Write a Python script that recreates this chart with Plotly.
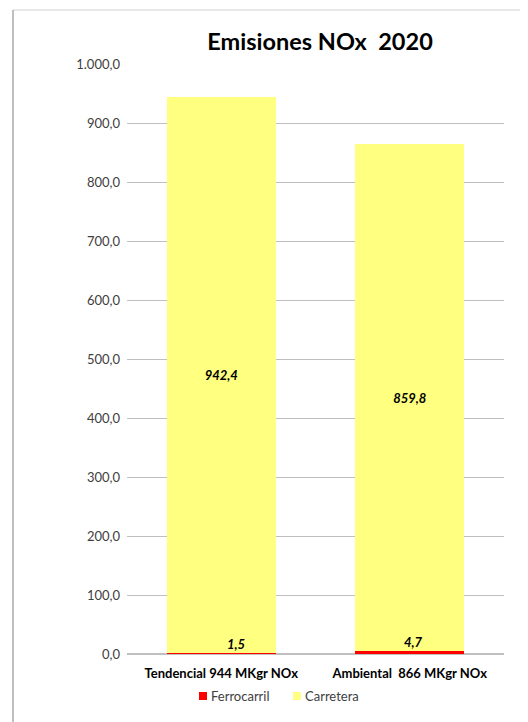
import plotly.graph_objects as go

categories = ["Tendencial 944 MKgr NOx", "Ambiental  866 MKgr NOx"]
ferrocarril = [1.5, 4.7]
carretera = [942.4, 859.8]
y_ticks = [0, 100, 200, 300, 400, 500, 600, 700, 800, 900, 1000]
series_names = ["Ferrocarril", "Carretera"]
series_colors = ["#FF0000", "#FFFF80"]

FONT = "Lato, 'Open Sans', sans-serif"
label_font = dict(family=FONT, size=13, color="#000000", weight="bold", style="italic")

fig = go.Figure()
fig.add_trace(go.Bar(
    name=series_names[0], x=categories, y=ferrocarril,
    marker=dict(color=series_colors[0], line=dict(width=0)),
    width=0.58, showlegend=False,
))
fig.add_trace(go.Bar(
    name=series_names[1], x=categories, y=carretera,
    marker=dict(color=series_colors[1], line=dict(width=0)),
    width=0.58, showlegend=False,
    texttemplate="%{y:.1f}", textposition="inside", insidetextanchor="middle",
    textfont=label_font, textangle=0,
))

label_xshift = [15, 4]
for c, v, xs in zip(categories, ferrocarril, label_xshift):
    fig.add_annotation(
        x=c, y=v, text=f"{v:.1f}".replace(".", ","), showarrow=False,
        yanchor="bottom", yshift=-1, xshift=xs, font=label_font,
    )

# manual legend (paper coords relative to plot area)
legend_items = [
    (series_names[0], series_colors[0], 0.1910, 0.2122, 0.2175),
    (series_names[1], series_colors[1], 0.4403, 0.4615, 0.4668),
]
shapes = [
    dict(type="line", xref="paper", yref="paper", x0=-0.3024, x1=1.2, y0=1.0915, y1=1.0915,
         line=dict(color="#D0D0D0", width=1)),
    dict(type="line", xref="paper", yref="paper", x0=-0.3024, x1=-0.3024, y0=1.0915, y1=-0.2,
         line=dict(color="#808080", width=1)),
]
for name, col, x0, x1, xt in legend_items:
    shapes.append(dict(type="rect", xref="paper", yref="paper", x0=x0, x1=x1,
                       y0=-0.0780, y1=-0.0644, fillcolor=col, line=dict(width=0)))
    fig.add_annotation(xref="paper", yref="paper", x=xt, y=-0.0712, text=name,
                       showarrow=False, xanchor="left", yanchor="middle",
                       font=dict(family=FONT, size=13, color="#404040"))

fig.update_layout(
    width=520, height=714,
    margin=dict(l=119, r=24, t=56, b=68),
    barmode="stack",
    separators=",.",
    paper_bgcolor="white", plot_bgcolor="white",
    font=dict(family=FONT, color="#404040"),
    title=dict(text="<b>Emisiones NOx  2020</b>", x=0.512, xref="paper", xanchor="center",
               y=0.952, yanchor="middle",
               font=dict(family=FONT, size=23.5, color="#000000")),
    showlegend=False,
    yaxis=dict(range=[0, 1000], tickvals=y_ticks, tickformat=",.1f",
               showgrid=True, gridcolor="#BFBFBF", gridwidth=1,
               zeroline=True, zerolinecolor="#BFBFBF",
               tickfont=dict(family=FONT, size=13, color="#404040"),
               ticks="", ticklabelstandoff=6, showline=False),
    xaxis=dict(tickfont=dict(family=FONT, size=13, color="#000000", weight="bold"),
               showline=False, ticks="", ticklabelstandoff=10),
    shapes=shapes,
)

fig.write_html("out.html")
